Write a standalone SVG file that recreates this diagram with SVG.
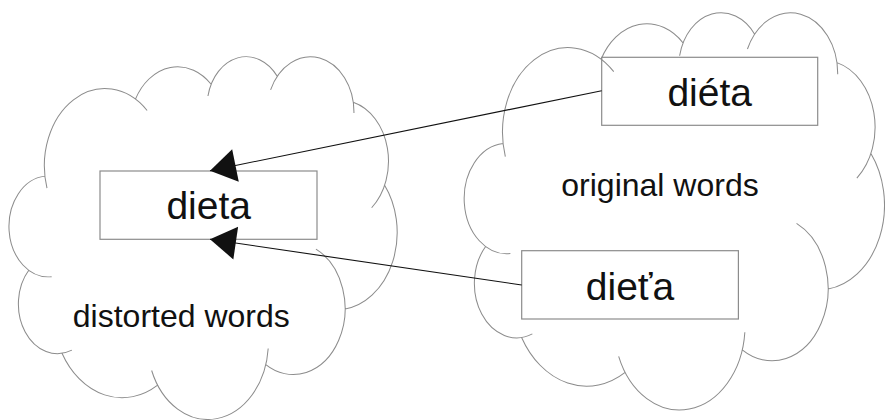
<svg xmlns="http://www.w3.org/2000/svg" width="885" height="420" viewBox="0 0 885 420">
<style>
.cloud{fill:none;stroke:#8c8c8c;stroke-linejoin:round}
.box{fill:none;stroke:#8c8c8c;stroke-width:1.2}
.word{font-family:"Liberation Sans",Arial,sans-serif;font-size:39px;fill:#111;text-anchor:middle}
.label{font-family:"Liberation Sans",Arial,sans-serif;font-size:32px;fill:#111;text-anchor:middle}
.conn{fill:none;stroke:#111;stroke-width:1.1}
</style>
<defs>
<path id="cloudShape" d="M4126.9 15789.1 A6753 9190 0 0 1 15304.7 6550.2 M14005.1 5201.8 A5333 7267 0 0 1 22455.9 3431.9 M22096.7 4821.4 A4365 5945 0 0 1 29832.9 2480.6 M29091.1 4092 A4857 6595 0 0 1 38394.4 6839.4 M38317.9 5575.7 A5333 7273 0 0 1 40370.4 18135.2 M41818.1 15459.4 A6775 9220 0 0 1 37404 30202.9 M34152.8 23067.5 A5785 7867 0 1 1 28555.6 36813.1 M28822.2 34903.8 A6752 9215 0 0 1 15812.3 37524 M16480.1 39263.9 A7720 10543 0 0 1 5804.5 35469.6 M6912.9 35088.1 A4360 5918 0 0 1 2113.2 25547.8 M4646.3 26344.9 A4345 5945 0 0 1 3900 14370"/>
<marker id="ah" markerUnits="userSpaceOnUse" orient="auto" overflow="visible" refX="0" refY="0" markerWidth="30" markerHeight="34">
<path d="M0,0 L-26,-16.5 L-26,16.5 Z" fill="#111" stroke="none"/>
</marker>
</defs>
<g id="distorted-cloud">
<use href="#cloudShape" class="cloud" stroke-width="115" transform="translate(10,55.5) scale(0.0089583,0.0083947)"/>
<text class="label" x="181.3" y="327.3">distorted words</text>
</g>
<g id="original-cloud">
<use href="#cloudShape" class="cloud" stroke-width="106" transform="translate(465.3,11.4) scale(0.0096991,0.0091921)"/>
<text class="label" x="660" y="196">original words</text>
</g>
<g id="node-dieta">
<rect class="box" x="100" y="171" width="217" height="68.3"/>
<text class="word" x="208.7" y="219">dieta</text>
</g>
<g id="node-dieta-acute">
<rect class="box" x="601.7" y="57.3" width="216" height="68"/>
<text class="word" x="709.7" y="106">diéta</text>
</g>
<g id="node-dieta-caron">
<rect class="box" x="521.7" y="250.7" width="216.7" height="68.3"/>
<text class="word" x="630" y="300">dieťa</text>
</g>
<g id="connectors">
<path class="conn" d="M601.7,90.7 L210,170.7" marker-end="url(#ah)"/>
<path class="conn" d="M521.7,285 L210,239.3" marker-end="url(#ah)"/>
</g>
</svg>
